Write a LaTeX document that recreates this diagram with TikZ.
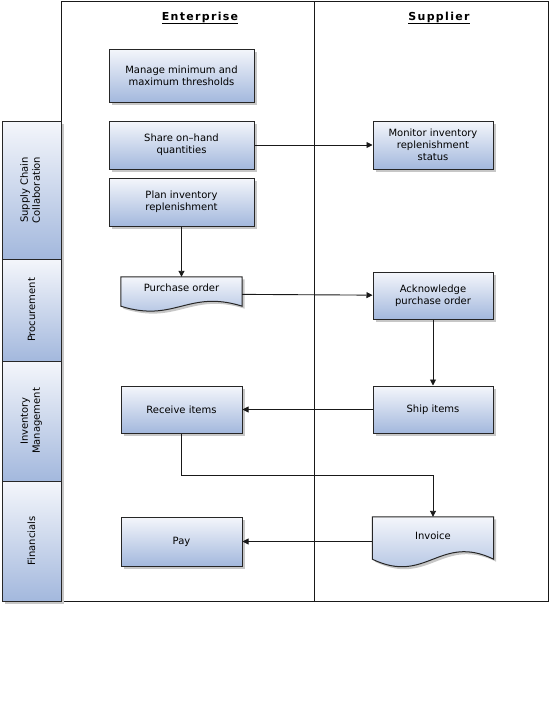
\documentclass[tikz,border=0pt]{standalone}
\usepackage{fontspec}
\setmainfont{DejaVu Sans}
\newfontfamily\headfont[LetterSpace=12]{DejaVu Sans}
\usetikzlibrary{arrows.meta,shadows,backgrounds,calc}
\definecolor{boxtop}{HTML}{F4F6FB}
\definecolor{boxbot}{HTML}{A3B8DD}
\begin{document}
\begin{tikzpicture}
        [x=1pt, y=-1pt, font=\fontsize{10}{12}\selectfont,
        shade/.style={draw=black!85, line width=1pt, top color=boxtop, bottom color=boxbot,
          drop shadow={shadow xshift=2.5pt, shadow yshift=-2.5pt, fill=black!22, opacity=1}},
        task/.style={shade, rectangle, align=center, inner sep=0pt},
        doc/.style={rectangle, align=center, inner sep=0pt, minimum width=121pt, text depth=12pt},
        lane/.style={shade, rectangle, inner sep=0pt, minimum width=59pt},
        head/.style={font=\headfont\bfseries\fontsize{11}{13}\selectfont, anchor=base},
        frame/.style={line width=1pt, black!90},
        edge/.style={line width=0.9pt, black!90, -{Triangle[length=6pt,width=6pt]}}]

        \useasboundingbox (0,0) rectangle (551,726);

        % pool and the divider between the two parties
        \draw[frame] (61,1) rectangle (548,601);
        \draw[frame] (314,1) -- (314,601);

        % party headers
        \node[head] (ent) at (200,20) {\underline{Enterprise}};
        \node[head] (sup) at (439,20) {\underline{Supplier}};

        % lanes on the left
        \node[lane, minimum height=138pt] (scc) at (31.5,190) {\rotatebox{90}{\begin{tabular}{@{}c@{}}Supply Chain\\Collaboration\end{tabular}}};
        \node[lane, minimum height=102pt] (proc) at (31.5,310) {\rotatebox{90}{Procurement}};
        \node[lane, minimum height=120pt] (inv) at (31.5,421) {\rotatebox{90}{\begin{tabular}{@{}c@{}}Inventory\\Management\end{tabular}}};
        \node[lane, minimum height=120pt] (fin) at (31.5,541) {\rotatebox{90}{Financials}};

        % enterprise tasks
        \node[task, minimum width=145pt, minimum height=53pt] (manage) at (181.5,75.5) {Manage minimum and\\maximum thresholds};
        \node[task, minimum width=145pt, minimum height=48pt] (share) at (181.5,145) {Share on–hand\\quantities};
        \node[task, minimum width=145pt, minimum height=48pt] (plan) at (181.5,202) {Plan inventory\\replenishment};
        \node[doc, minimum height=34pt] (po) at (181.5,294) {Purchase order};
        \node[task, minimum width=121pt, minimum height=47pt] (receive) at (181.5,409.5) {Receive items};
        \node[task, minimum width=121pt, minimum height=49pt] (pay) at (181.5,541.5) {Pay};

        % supplier tasks
        \node[task, minimum width=120pt, minimum height=48pt] (monitor) at (433,145) {Monitor inventory\\replenishment\\status};
        \node[task, minimum width=120pt, minimum height=47pt] (ack) at (433,295.5) {Acknowledge\\purchase order};
        \node[task, minimum width=120pt, minimum height=47pt] (ship) at (433,409.5) {Ship items};
        \node[doc, minimum height=49pt] (invoice) at (433,541.5) {Invoice};

        % document outlines (wavy bottom)
        \begin{scope}[on background layer]
        \path[shade] (po.north west) -- (po.north east) -- ($(po.south east)+(0,-5)$)
          .. controls +(-54,-17) and +(54,17) .. ($(po.south west)+(0,-5)$) -- cycle;
        \path[shade] (invoice.north west) -- (invoice.north east) -- ($(invoice.south east)+(0,-7)$)
          .. controls +(-54,-26) and +(54,26) .. ($(invoice.south west)+(0,-7)$) -- cycle;
        \end{scope}

        % flow
        \coordinate (bend) at (433,475);
        \draw[edge] (share) -- (monitor);
        \draw[edge] (plan) -- (po);
        \draw[edge] (po) -- (ack);
        \draw[edge] (ack) -- (ship);
        \draw[edge] (ship) -- (receive);
        \draw[edge] (receive) |- (bend) -- (invoice);
        \draw[edge] (invoice) -- (pay);

        \end{tikzpicture}
\end{document}
